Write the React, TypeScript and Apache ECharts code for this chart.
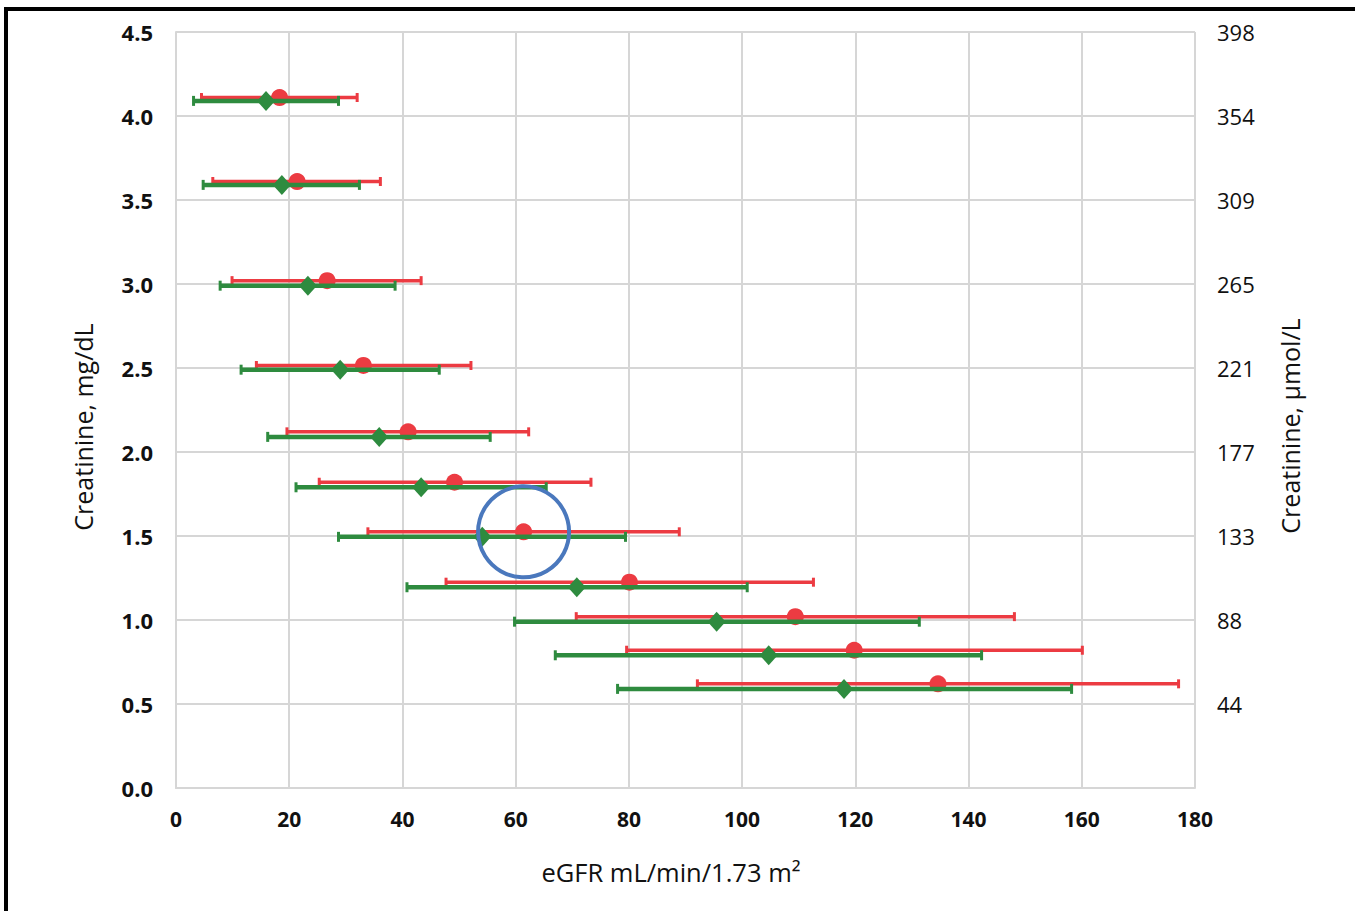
import React, { useEffect, useRef } from "react";
import * as echarts from "echarts";

// Creatinine (mg/dL) bins – y positions of the two series
const redY = [4.11, 3.61, 3.02, 2.515, 2.12, 1.82, 1.525, 1.225, 1.02, 0.82, 0.62];
const redX = [18.3, 21.4, 26.7, 33.1, 41.0, 49.2, 61.4, 80.1, 109.4, 119.8, 134.6];
const redLow = [4.5, 6.5, 9.9, 14.2, 19.6, 25.3, 33.9, 47.7, 70.7, 79.6, 92.1];
const redHigh = [32.0, 36.1, 43.3, 52.1, 62.3, 73.3, 88.9, 112.6, 148.1, 160.1, 177.1];

const greenY = [4.09, 3.59, 2.99, 2.49, 2.09, 1.79, 1.495, 1.195, 0.99, 0.79, 0.59];
const greenX = [15.9, 18.7, 23.3, 29.0, 35.9, 43.3, 54.1, 70.8, 95.5, 104.7, 118.0];
const greenLow = [3.1, 4.8, 7.8, 11.5, 16.2, 21.2, 28.7, 40.8, 59.8, 67.0, 78.0];
const greenHigh = [28.7, 32.4, 38.7, 46.5, 55.5, 65.4, 79.4, 100.9, 131.3, 142.3, 158.2];

const leftTickLabels = ["0.0", "0.5", "1.0", "1.5", "2.0", "2.5", "3.0", "3.5", "4.0", "4.5"];
const rightTickLabels = ["", "44", "88", "133", "177", "221", "265", "309", "354", "398"];
const xTickLabels = ["0", "20", "40", "60", "80", "100", "120", "140", "160", "180"];

const highlightIndex = 6;

const RED = "#ec3b42";
const GREEN = "#2e8b3f";
const GRID = "#d6d6d6";
const FONT = "'Open Sans', sans-serif";

function errorBarSeries(lows: number[], highs: number[], ys: number[], color: string, lw: number, cap: number) {
  return {
    type: "custom",
    clip: false,
    data: ys.map((y, i) => [lows[i], highs[i], y]),
    encode: { x: [0, 1], y: 2 },
    renderItem: (_params: any, api: any) => {
      const y = api.value(2);
      const p1 = api.coord([api.value(0), y]);
      const p2 = api.coord([api.value(1), y]);
      const st = { stroke: color, lineWidth: lw };
      const cs = { stroke: color, lineWidth: 3 };
      return {
        type: "group",
        children: [
          { type: "line", shape: { x1: p1[0], y1: p1[1], x2: p2[0], y2: p2[1] }, style: st },
          { type: "line", shape: { x1: p1[0], y1: p1[1] - cap / 2, x2: p1[0], y2: p1[1] + cap / 2 }, style: cs },
          { type: "line", shape: { x1: p2[0], y1: p2[1] - cap / 2, x2: p2[0], y2: p2[1] + cap / 2 }, style: cs },
        ],
      };
    },
  };
}

export default function App() {
  const ref = useRef<HTMLDivElement>(null);
  useEffect(() => {
    if (!ref.current) return;
    const chart = echarts.init(ref.current, undefined, { renderer: "svg" });
    const option: any = {
      animation: false,
      backgroundColor: "#ffffff",
      grid: { left: 176, right: 160, top: 32, bottom: 123, containLabel: false },
      xAxis: {
        type: "value",
        min: 0,
        max: 180,
        interval: 20,
        axisLine: { show: true, lineStyle: { color: GRID, width: 2 } },
        axisTick: { show: false },
        splitLine: { show: true, lineStyle: { color: GRID, width: 2 } },
        axisLabel: {
          margin: 20,
          fontFamily: FONT,
          fontSize: 21,
          fontWeight: "bold",
          color: "#111",
          formatter: (_v: number, i: number) => xTickLabels[i],
        },
      },
      yAxis: [
        {
          type: "value",
          min: 0,
          max: 4.5,
          interval: 0.5,
          axisLine: { show: true, lineStyle: { color: GRID, width: 2 } },
          axisTick: { show: false },
          splitLine: { show: true, lineStyle: { color: GRID, width: 2 } },
          axisLabel: {
            margin: 23,
            fontFamily: FONT,
            fontSize: 22,
            fontWeight: "bold",
            color: "#111",
            formatter: (_v: number, i: number) => leftTickLabels[i],
          },
        },
        {
          type: "value",
          position: "right",
          min: 0,
          max: 4.5,
          interval: 0.5,
          axisLine: { show: false },
          axisTick: { show: false },
          splitLine: { show: false },
          axisLabel: {
            margin: 22,
            fontFamily: FONT,
            fontSize: 22,
            color: "#111",
            formatter: (_v: number, i: number) => rightTickLabels[i],
          },
        },
      ],
      graphic: [
        {
          type: "line",
          shape: { x1: 4, y1: 9, x2: 1355, y2: 9 },
          style: { stroke: "#000", lineWidth: 4 },
        },
        {
          type: "line",
          shape: { x1: 6, y1: 7, x2: 6, y2: 911 },
          style: { stroke: "#000", lineWidth: 4 },
        },
        {
          type: "text",
          x: 671,
          y: 872,
          style: {
            text: "eGFR mL/min/1.73 m²",
            fontFamily: FONT,
            fontSize: 25.5,
            fill: "#111",
            textAlign: "center",
            textVerticalAlign: "middle",
          },
        },
        {
          type: "text",
          x: 83,
          y: 427,
          rotation: Math.PI / 2,
          style: {
            text: "Creatinine, mg/dL",
            fontFamily: FONT,
            fontSize: 25,
            fill: "#111",
            textAlign: "center",
            textVerticalAlign: "middle",
          },
        },
        {
          type: "text",
          x: 1290,
          y: 426,
          rotation: Math.PI / 2,
          style: {
            text: "Creatinine, µmol/L",
            fontFamily: FONT,
            fontSize: 25,
            fill: "#111",
            textAlign: "center",
            textVerticalAlign: "middle",
          },
        },
      ],
      series: [
        { ...errorBarSeries(redLow, redHigh, redY, RED, 3.5, 9), z: 2 },
        {
          type: "scatter",
          z: 3,
          symbol: "circle",
          symbolSize: 17,
          itemStyle: { color: RED, opacity: 1 },
          data: redX.map((x, i) => [x, redY[i]]),
        },
        { ...errorBarSeries(greenLow, greenHigh, greenY, GREEN, 4.5, 10), z: 4 },
        {
          type: "scatter",
          z: 5,
          symbol: "diamond",
          symbolSize: [18, 20],
          itemStyle: { color: GREEN, opacity: 1 },
          data: greenX.map((x, i) => [x, greenY[i]]),
        },
        {
          type: "scatter",
          z: 6,
          silent: true,
          symbol: "circle",
          symbolSize: 91,
          itemStyle: { color: "rgba(0,0,0,0)", borderColor: "#4a78bd", borderWidth: 4, opacity: 1 },
          data: [[redX[highlightIndex], redY[highlightIndex]]],
        },
      ],
    };
    chart.setOption(option);
    return () => chart.dispose();
  }, []);
  return (
    <div
      ref={ref}
      style={{ position: "fixed", left: 0, top: 0, width: 1355, height: 911, background: "#fff" }}
    />
  );
}
